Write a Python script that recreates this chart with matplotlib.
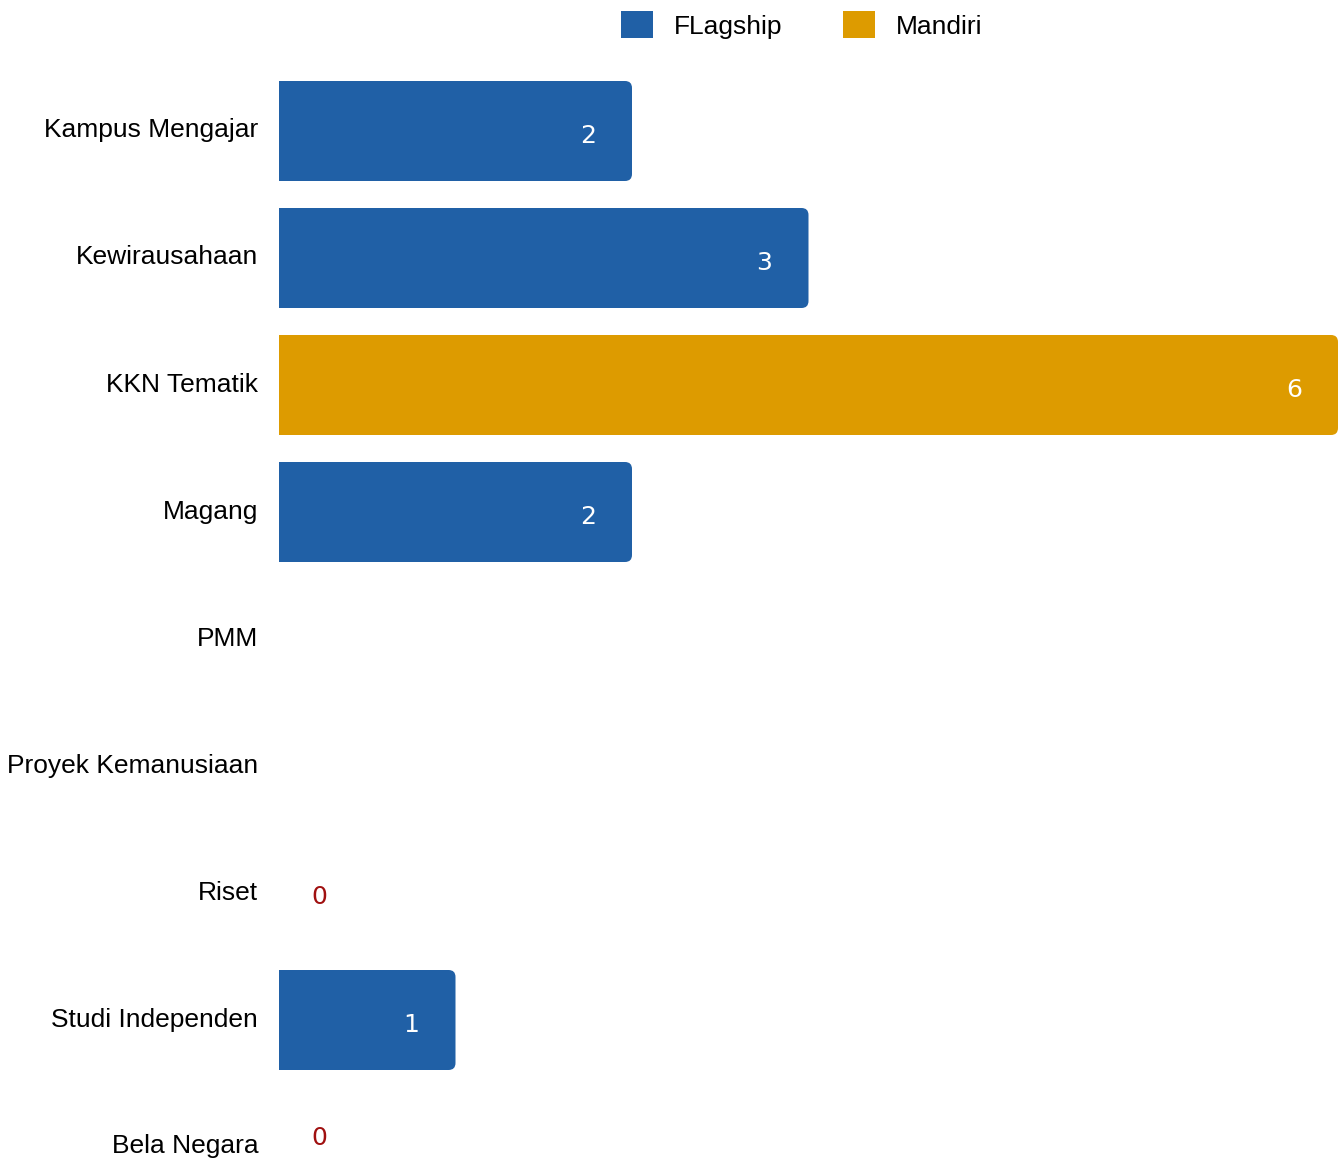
import matplotlib
matplotlib.use("Agg")
import matplotlib.pyplot as plt
import matplotlib.transforms as mtransforms
from matplotlib.patches import FancyBboxPatch, Patch

categories = ["Kampus Mengajar", "Kewirausahaan", "KKN Tematik", "Magang", "PMM",
              "Proyek Kemanusiaan", "Riset", "Studi Independen", "Bela Negara"]
values = [2, 3, 6, 2, None, None, 0, 1, 0]
groups = ["FLagship", "FLagship", "Mandiri", "FLagship", None, None, "FLagship", "FLagship", "FLagship"]
series_names = ["FLagship", "Mandiri"]
colors = {"FLagship": "#2060A6", "Mandiri": "#DD9B00"}

W, H = 1338, 1160
fig = plt.figure(figsize=(W / 100, H / 100), dpi=100)
ax = fig.add_axes([279 / W, 0, 1 - 279 / W, 1])
xmax = 6
ax.set_xlim(0, xmax)
row_px = 127
first_px = 131
ybottom = (H - first_px) / row_px
ax.set_ylim(ybottom, -first_px / row_px)

px_x = (W - 279) / xmax
px_y = row_px
bar_h = 100 / row_px
r = 7 / px_x

for i, (v, g) in enumerate(zip(values, groups)):
    if v is None:
        continue
    if v > 0:
        p = FancyBboxPatch((-0.2, i - bar_h / 2), v + 0.2, bar_h,
                           boxstyle=f"round,pad=0,rounding_size={r}",
                           mutation_aspect=px_x / px_y,
                           facecolor=colors[g], edgecolor="none")
        ax.add_patch(p)
        ax.text(v - 0.25, i + 0.04, str(v), ha="center", va="center",
                color="white", fontsize=18, family="DejaVu Sans")
    else:
        ax.text(0.23, min(i + 0.03, ybottom - 0.17), str(v), ha="center", va="center",
                color="#A01010", fontsize=18, family="DejaVu Sans")

ax.set_yticks(range(len(categories)))
ax.set_yticklabels(categories, fontsize=19, family="Liberation Sans")
ax.tick_params(axis="y", length=0, pad=15)
shift = mtransforms.ScaledTranslation(0, 3 / 100, fig.dpi_scale_trans)
for lbl in ax.get_yticklabels():
    lbl.set_transform(lbl.get_transform() + shift)
ax.set_xticks([])
for s in ax.spines.values():
    s.set_visible(False)

handles = [Patch(facecolor=colors[n], edgecolor="none", label=n) for n in series_names]
fig.legend(handles=handles, loc="center", bbox_to_anchor=(802 / W, 1 - 25 / H), ncol=2,
           frameon=False, prop={"family": "Liberation Sans", "size": 19},
           handlelength=1.2, handleheight=1.2, columnspacing=2.3, handletextpad=0.8)

fig.savefig("out.png", dpi=100)
